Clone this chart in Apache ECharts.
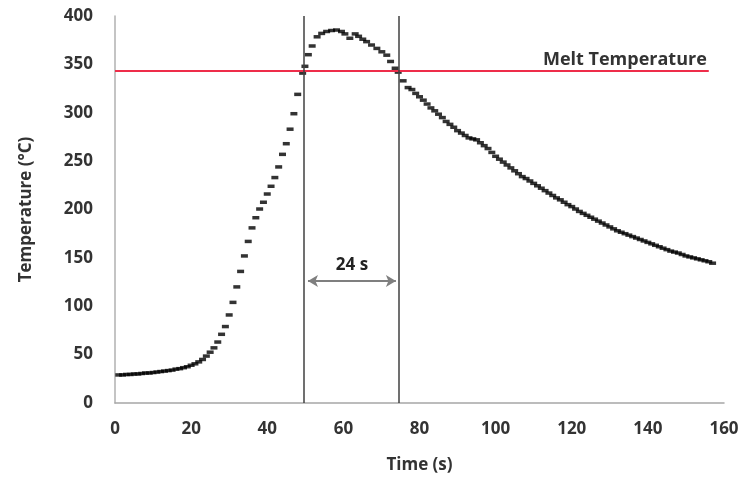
<!DOCTYPE html>
<html>
<head>
<meta charset="utf-8">
<script src="https://cdn.jsdelivr.net/npm/echarts@6/dist/echarts.min.js"></script>
<style>
  html, body { margin: 0; padding: 0; background: #ffffff; }
  #chart { width: 747px; height: 488px; }
</style>
</head>
<body>
<div id="chart"></div>
<script>
// thermocouple readings, time in seconds
const timeS = [
  1, 2, 3, 4, 5, 6, 7, 8, 9, 10, 11, 12, 13, 14, 15, 16, 17, 18, 19, 20, 21, 22, 23, 24, 25,
  26, 27, 28, 29, 30, 31, 32, 33, 34, 35, 36, 37, 38, 39, 40, 41, 42, 43, 44, 45, 46, 47, 48,
  49.3, 49.9, 50.8, 51.8, 53.1, 54.3, 55.6, 56.9, 58.2, 59.5, 60.4, 61.7, 63.1, 64, 65.1, 66.1,
  67.4, 68.8, 70.1, 71.4, 72.4, 73.6, 74.4, 75.7, 77,
  78, 79, 80, 81, 82, 83, 84, 85, 86, 87, 88, 89, 90, 91, 92, 93, 94, 95, 96, 97, 98, 99, 100,
  101, 102, 103, 104, 105, 106, 107, 108, 109, 110, 111, 112, 113, 114, 115, 116, 117, 118, 119, 120,
  121, 122, 123, 124, 125, 126, 127, 128, 129, 130, 131, 132, 133, 134, 135, 136, 137, 138, 139, 140,
  141, 142, 143, 144, 145, 146, 147, 148, 149, 150, 151, 152, 153, 154, 155, 156, 157
];
const tempC = [
  29, 29, 29.5, 29.5, 30, 30, 30.5, 31, 31, 31.5, 32, 32.5, 33, 33.5, 34, 35, 35.5, 36.5, 37.5, 39, 40.5, 42.5, 45, 48.5, 52.5,
  57, 63, 71, 79, 91, 104, 120, 136, 152, 167, 181, 191.5, 200.5, 207.5, 216, 224, 233, 244, 257, 268, 283, 299, 319,
  341, 348, 360, 369, 378.5, 382, 384, 385, 385.5, 384, 381.5, 377, 381.5, 379, 376, 373.5,
  370, 366.5, 363, 359.5, 353, 346, 342, 333, 326,
  324, 320, 316.5, 313, 309, 305, 302, 298.5, 295, 291, 288, 285, 281.5, 279, 276.5, 274, 273, 272, 269, 266, 263, 259, 255,
  252, 249, 246, 243, 240, 237, 234, 232, 229.5, 227, 224.5, 222, 219.5, 217, 214.5, 212, 210, 207.5, 205, 203,
  200.5, 198, 196, 194, 192, 190, 188, 186, 184, 182, 180, 178, 176.5, 175, 173.5, 172, 170.5, 169, 167.5, 166,
  164.5, 163, 161.5, 160, 158.5, 157, 156, 155, 153.5, 152, 151, 150, 149, 148, 147, 146, 144.5
];

const meltTemp = 343;
const meltLineEnd = 156;
const meltLabel = 'Melt Temperature';
const boundTimes = [49.5, 74.5];
const arrowSpan = [50.7, 73.8];
const arrowTemp = 126;
const arrowLabel = '24 s';

const xTicks = { min: 0, max: 160, interval: 20 };
const yTicks = { min: 0, max: 400, interval: 50 };

const chart = echarts.init(document.getElementById('chart'));

const fontFamily = '"Open Sans", "Liberation Sans", sans-serif';
const textColor = '#333333';

const option = {
  animation: false,
  grid: { left: 115, right: 23, top: 16, bottom: 85 },
  xAxis: {
    type: 'value',
    min: xTicks.min,
    max: xTicks.max,
    interval: xTicks.interval,
    name: 'Time (s)',
    nameLocation: 'middle',
    nameGap: 54,
    nameTextStyle: { fontFamily, fontSize: 17, fontWeight: 'bold', color: textColor },
    axisLine: { lineStyle: { color: '#a6a6a6', width: 1.5 } },
    axisTick: { show: false },
    splitLine: { show: false },
    axisLabel: { fontFamily, fontSize: 17, fontWeight: 'bold', color: textColor, margin: 18 }
  },
  yAxis: {
    type: 'value',
    min: yTicks.min,
    max: yTicks.max,
    interval: yTicks.interval,
    name: 'Temperature (°C)',
    nameLocation: 'middle',
    nameRotate: 90,
    nameGap: 80,
    nameTextStyle: { fontFamily, fontSize: 17, fontWeight: 'bold', color: textColor },
    axisLine: { show: true, lineStyle: { color: '#b0b0b0', width: 1.5 } },
    axisTick: { show: false },
    splitLine: { show: false },
    axisLabel: { fontFamily, fontSize: 17, fontWeight: 'bold', color: textColor, margin: 22 }
  },
  series: [
    {
      name: 'Temperature',
      type: 'scatter',
      data: timeS.map((t, i) => [t, tempC[i]]),
      symbol: 'rect',
      symbolSize: [7, 3.5],
      itemStyle: { color: '#000000' },
      z: 3
    },
    {
      // melt temperature line and the two crossing times
      name: 'guides',
      type: 'line',
      data: [],
      markLine: {
        silent: true,
        animation: false,
        symbol: ['none', 'none'],
        data: [
          [
            { coord: [0, meltTemp], lineStyle: { color: '#ee2d4a', width: 2, type: 'solid' },
              label: { show: true, position: 'insideEndTop', formatter: meltLabel, distance: 2,
                       fontFamily, fontSize: 18, fontWeight: 'bold', color: textColor } },
            { coord: [meltLineEnd, meltTemp] }
          ],
          { xAxis: boundTimes[0], lineStyle: { color: '#404040', width: 1.5, type: 'solid' }, label: { show: false } },
          { xAxis: boundTimes[1], lineStyle: { color: '#404040', width: 1.5, type: 'solid' }, label: { show: false } }
        ]
      }
    },
    {
      // duration arrow
      name: 'duration',
      type: 'line',
      data: [],
      markLine: {
        silent: true,
        animation: false,
        symbol: ['arrow', 'arrow'],
        symbolSize: [9, 10],
        data: [
          [
            { coord: [arrowSpan[0], arrowTemp], lineStyle: { color: '#7f7f7f', width: 2, type: 'solid' },
              label: { show: true, position: 'insideMiddleTop', formatter: arrowLabel, distance: 7,
                       fontFamily, fontSize: 17, fontWeight: 'bold', color: '#222222' } },
            { coord: [arrowSpan[1], arrowTemp] }
          ]
        ]
      }
    }
  ]
};

chart.setOption(option);
</script>
</body>
</html>
